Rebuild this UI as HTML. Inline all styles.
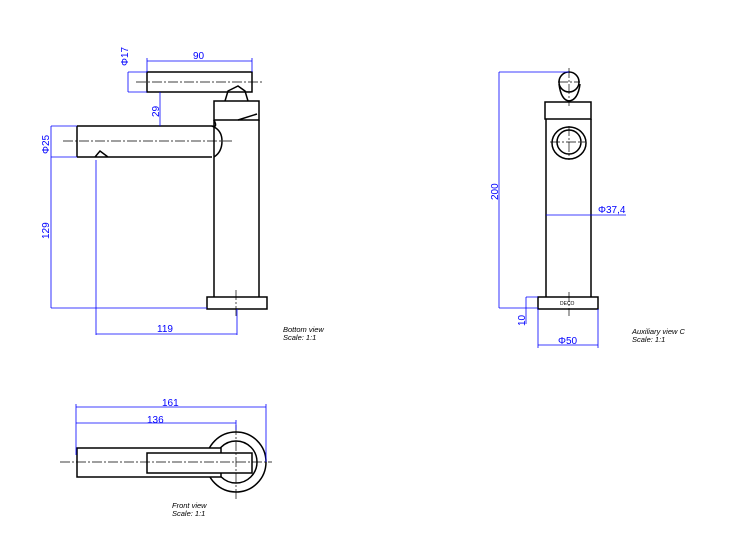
<!DOCTYPE html>
<html><head><style>body{margin:0;background:#fff}svg{display:block}</style></head><body>
<svg width="739" height="548" viewBox="0 0 739 548" xmlns="http://www.w3.org/2000/svg" font-family="Liberation Sans, sans-serif">
<g stroke="#000" fill="none" stroke-width="1.5">
<!-- bottom view -->
<rect x="147" y="72" width="105" height="20"/>
<path d="M225 101 L228 91 L238 86 L245 91 L248 101"/>
<rect x="214" y="101" width="45" height="19"/>
<path d="M238 120 L257 114"/>
<path d="M214 120 V297 M259 120 V297"/>
<rect x="207" y="297" width="60" height="12"/>
<path d="M77 126 H212 M212 157 H108 L100 151 L95 157 H77 Z M77 126 V157"/>
<path d="M212 126 Q222 130 222 141 Q222 152 214 157"/>
<path d="M212 126 Q218 128 214 120"/>
<!-- aux view -->
<circle cx="569" cy="82" r="10"/>
<path d="M559 84 Q561 100 569 101 Q578 100 580 84"/>
<rect x="545" y="102" width="46" height="17"/>
<path d="M546 119 V297 M591 119 V297"/>
<rect x="538" y="297" width="60" height="12"/>
<circle cx="569" cy="142" r="12"/>
<ellipse cx="569" cy="143" rx="17" ry="16"/>
<!-- front view -->
<circle cx="236" cy="462" r="30"/>
<circle cx="236" cy="462" r="21"/>
<rect x="77" y="448" width="144" height="29" fill="#fff"/>
<rect x="147" y="453" width="105" height="20" fill="#fff"/>
</g>
<g stroke="#000" stroke-width="0.7" stroke-dasharray="10,2,2,2" fill="none">
<path d="M136 82 H263 M63 141 H232 M236 290 V316"/>
<path d="M569 68 V106 M558 82 H580 M569 126 V160 M550 142 H585 M569 292 V316"/>
<path d="M60 462 H272 M236 425 V500"/>
</g>
<g stroke="#00f" stroke-width="0.8" fill="none">
<path d="M147 72 V58 M252 72 V58 M147 61 H252"/>
<path d="M128 72 H147 M128 92 H147 M128 72 V92"/>
<path d="M160 92 V126"/>
<path d="M51 126 H77 M51 157 H77 M51 126 V308 M51 308 H207"/>
<path d="M96 160 V335 M237 309 V335 M96 334 H237"/>
<path d="M499 72 H569 M499 72 V308 M499 308 H538"/>
<path d="M546 215 H626"/>
<path d="M526 297 H538 M526 297 V324 M538 309 V348 M598 309 V348 M538 345 H598"/>
<path d="M76 407 H266 M76 423 H236 M76 404 V455 M266 404 V462 M236 420 V430"/>
</g>
<g fill="#00f" font-size="10">
<text x="193" y="59">90</text>
<text transform="translate(128,66) rotate(-90)">Φ17</text>
<text transform="translate(159,117) rotate(-90)">29</text>
<text transform="translate(49,154) rotate(-90)">Φ25</text>
<text transform="translate(49,239) rotate(-90)">129</text>
<text x="157" y="332">119</text>
<text transform="translate(498,200) rotate(-90)">200</text>
<text x="598" y="213">Φ37,4</text>
<text transform="translate(525,326) rotate(-90)">10</text>
<text x="558" y="344">Φ50</text>
<text x="162" y="406">161</text>
<text x="147" y="423">136</text>
</g>
<g fill="#000" font-size="7.5" font-style="italic">
<text x="283" y="332">Bottom view</text><text x="283" y="340">Scale:  1:1</text>
<text x="632" y="334">Auxiliary view C</text><text x="632" y="342">Scale:  1:1</text>
<text x="172" y="508">Front view</text><text x="172" y="516">Scale:  1:1</text>
<text x="560" y="305" font-size="5" font-style="normal">DECO</text>
</g>
</svg>
</body></html>
